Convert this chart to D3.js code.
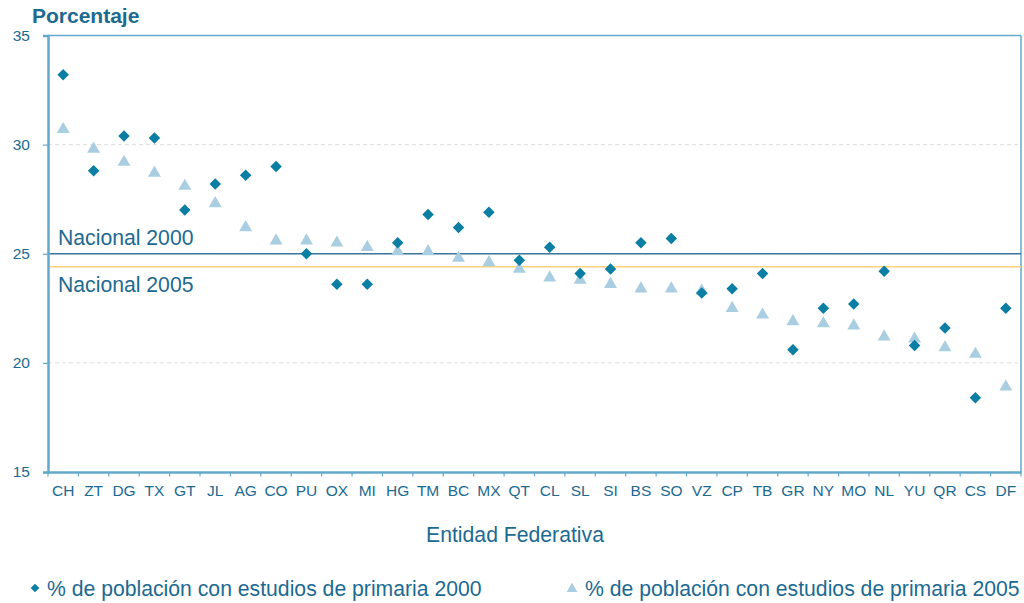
<!DOCTYPE html>
<html><head><meta charset="utf-8">
<script src="https://cdn.jsdelivr.net/npm/d3@7"></script>
<style>
html,body{margin:0;padding:0;background:#fff;}
svg{display:block;font-family:"Liberation Sans",Arial,sans-serif;}
</style></head>
<body><svg id="c" width="1024" height="603"></svg>
<script>
const categories = ["CH","ZT","DG","TX","GT","JL","AG","CO","PU","OX","MI","HG","TM","BC","MX","QT","CL","SL","SI","BS","SO","VZ","CP","TB","GR","NY","MO","NL","YU","QR","CS","DF"];
const values2000 = [33.2,28.8,30.4,30.3,27.0,28.2,28.6,29.0,25.0,23.6,23.6,25.5,26.8,26.2,26.9,24.7,25.3,24.1,24.3,25.5,25.7,23.2,23.4,24.1,20.6,22.5,22.7,24.2,20.8,21.6,18.4,22.5];
const values2005 = [30.7,29.8,29.2,28.7,28.1,27.3,26.2,25.6,25.6,25.5,25.3,25.1,25.1,24.8,24.6,24.3,23.9,23.8,23.6,23.4,23.4,23.3,22.5,22.2,21.9,21.8,21.7,21.2,21.1,20.7,20.4,18.9];
const yTicks = [15,20,25,30,35];
const nacional = [{label:"Nacional 2000", value:25.0}, {label:"Nacional 2005", value:24.4}];
const seriesNames = ["% de población con estudios de primaria 2000","% de población con estudios de primaria 2005"];
const titleY = "Porcentaje";
const titleX = "Entidad Federativa";

const textCol = "#1c6a92", axisCol = "#62a9cc", c2000 = "#0b7ea4", c2005 = "#a9cde1";
const L = 48, R = 1021, T = 35.5, B = 472;
const svg = d3.select("#c");
const x = d3.scaleBand().domain(categories).range([L, R]).padding(0);
const y = d3.scaleLinear().domain([15, 35]).range([B, T]);

// grid
svg.append("g").selectAll("line").data(yTicks.filter(t => t > 15 && t < 35)).join("line")
  .attr("x1", L).attr("x2", R).attr("y1", d => y(d)).attr("y2", d => y(d))
  .attr("stroke", "#dcdcdc").attr("stroke-width", 1).attr("stroke-dasharray", "4,3");

// frame top & right
svg.append("line").attr("x1", L).attr("x2", R).attr("y1", T).attr("y2", T).attr("stroke", axisCol).attr("stroke-width", 1.3);
svg.append("line").attr("x1", R).attr("x2", R).attr("y1", T).attr("y2", B).attr("stroke", axisCol).attr("stroke-width", 1.5);

// national lines
const natCols = ["#3a77a0", "#ffd27a"];
svg.append("g").selectAll("line").data(nacional).join("line")
  .attr("x1", L).attr("x2", R).attr("y1", d => y(d.value)).attr("y2", d => y(d.value))
  .attr("stroke", (d, i) => natCols[i]).attr("stroke-width", 1.5);
svg.append("text").attr("x", 58).attr("y", y(nacional[0].value) - 9).text(nacional[0].label)
  .attr("fill", textCol).attr("font-size", 21.2);
svg.append("text").attr("x", 58).attr("y", y(nacional[1].value) + 25).text(nacional[1].label)
  .attr("fill", textCol).attr("font-size", 21.2);

// y axis
const yAxis = d3.axisLeft(y).tickValues(yTicks).tickSize(5).tickPadding(13);
const gy = svg.append("g").attr("transform", `translate(${L},0)`).call(yAxis);
gy.select(".domain").attr("stroke", axisCol).attr("stroke-width", 2.5);
gy.selectAll(".tick line").attr("stroke", axisCol).attr("stroke-width", 1.2);
gy.selectAll(".tick text").attr("fill", textCol).attr("font-size", 15.5).attr("font-family", "Liberation Sans, Arial, sans-serif");

// x axis
const xAxis = d3.axisBottom(x).tickSize(0).tickPadding(13);
const gx = svg.append("g").attr("transform", `translate(0,${B})`).call(xAxis);
gx.select(".domain").attr("stroke", axisCol).attr("stroke-width", 2.5);
gx.selectAll(".tick text").attr("fill", textCol).attr("font-size", 15.5).attr("font-family", "Liberation Sans, Arial, sans-serif");
// boundary ticks
svg.append("g").selectAll("line").data(categories.concat(["_end"])).join("line")
  .attr("x1", (d, i) => i < categories.length ? x(d) : R).attr("x2", (d, i) => i < categories.length ? x(d) : R)
  .attr("y1", B).attr("y2", B + 4.5).attr("stroke", axisCol).attr("stroke-width", 1.2);

// points 2005 (triangles)
const tri = d3.symbol(d3.symbolTriangle, 72);
svg.append("g").selectAll("path").data(values2005).join("path")
  .attr("d", tri).attr("fill", c2005)
  .attr("transform", (d, i) => `translate(${x(categories[i]) + x.bandwidth() / 2},${y(d)})`);
// points 2000 (diamonds)
const sq = d3.symbol(d3.symbolSquare, 66);
svg.append("g").selectAll("path").data(values2000).join("path")
  .attr("d", sq).attr("fill", c2000)
  .attr("transform", (d, i) => `translate(${x(categories[i]) + x.bandwidth() / 2},${y(d)}) rotate(45)`);

// titles
svg.append("text").attr("x", 32).attr("y", 23).text(titleY).attr("fill", textCol)
  .attr("font-size", 21).attr("font-weight", "bold");
svg.append("text").attr("x", 515).attr("y", 542).attr("text-anchor", "middle").text(titleX)
  .attr("fill", textCol).attr("font-size", 21.2);

// legend
const leg = svg.append("g");
leg.append("path").attr("d", d3.symbol(d3.symbolSquare, 38)).attr("fill", c2000).attr("transform", "translate(35,588) rotate(45)");
leg.append("text").attr("x", 47).attr("y", 595.5).text(seriesNames[0]).attr("fill", textCol).attr("font-size", 21.2);
leg.append("path").attr("d", d3.symbol(d3.symbolTriangle, 50)).attr("fill", c2005).attr("transform", "translate(572,589)");
leg.append("text").attr("x", 585).attr("y", 595.5).text(seriesNames[1]).attr("fill", textCol).attr("font-size", 21.2);
</script></body></html>
